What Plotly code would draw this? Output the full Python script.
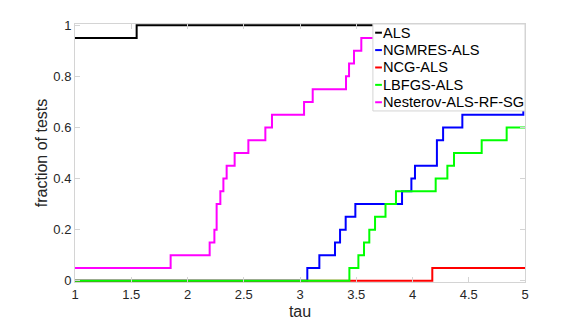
import plotly.graph_objects as go

# performance profile, step functions (tau where each fraction starts)
names = ['ALS', 'NGMRES-ALS', 'NCG-ALS', 'LBFGS-ALS', 'Nesterov-ALS-RF-SG']
colors = ['#000000', '#0000ff', '#ff0000', '#00ff00', '#ff00ff']

als_tau = [1, 1.548, 5]
als_frac = [0.95, 1.0, 1.0]

ngmres_tau = [1, 3.065, 3.172, 3.311, 3.356, 3.406, 3.492, 3.907, 3.99, 4.022,
              4.217, 4.272, 4.443, 4.985, 5]
ngmres_frac = [0, 0.05, 0.1, 0.15, 0.2, 0.25, 0.3, 0.35, 0.4, 0.45,
               0.55, 0.6, 0.65, 0.7, 0.7]

ncg_tau = [1, 4.176, 5]
ncg_frac = [0, 0.05, 0.05]

lbfgs_tau = [1, 3.439, 3.519, 3.569, 3.616, 3.667, 3.76, 3.853, 4.206, 4.31,
             4.369, 4.615, 4.837, 5]
lbfgs_frac = [0, 0.05, 0.1, 0.15, 0.2, 0.25, 0.3, 0.35, 0.4, 0.45,
              0.5, 0.55, 0.6, 0.6]

nest_tau = [1, 1.85, 2.197, 2.239, 2.259, 2.292, 2.319, 2.348, 2.419, 2.541,
            2.692, 2.751, 3.036, 3.113, 3.409, 3.436, 3.48, 3.545, 3.853, 5]
nest_frac = [0.05, 0.1, 0.15, 0.2, 0.3, 0.35, 0.4, 0.45, 0.5, 0.55,
             0.6, 0.65, 0.7, 0.75, 0.8, 0.85, 0.9, 0.95, 1.0, 1.0]

series = [(als_tau, als_frac), (ngmres_tau, ngmres_frac), (ncg_tau, ncg_frac),
          (lbfgs_tau, lbfgs_frac), (nest_tau, nest_frac)]

fig = go.Figure()
for name, color, (tau, frac) in zip(names, colors, series):
    fig.add_trace(go.Scatter(x=tau, y=frac, name=name, mode='lines',
                             line=dict(color=color, width=2, shape='hv'),
                             showlegend=False))

axis_style = dict(showline=True, linecolor='#d4d4d4', linewidth=1, mirror='ticks',
                  ticks='inside', ticklen=5, tickcolor='#d4d4d4', showgrid=False,
                  zeroline=False, automargin=False,
                  tickfont=dict(size=13, color='#262626'))

# page body has an 8px margin, so the figure is 8px smaller each way
fig.update_layout(
    width=573, height=314,
    margin=dict(l=67, r=56, t=16, b=40),
    paper_bgcolor='white', plot_bgcolor='white',
    font=dict(family='Liberation Sans, Arial, sans-serif', color='#262626'),
    xaxis=dict(range=[1, 5], tickvals=[1, 1.5, 2, 2.5, 3, 3.5, 4, 4.5, 5],
               ticktext=['1', '1.5', '2', '2.5', '3', '3.5', '4', '4.5', '5'],
               title=dict(text='tau', font=dict(size=16), standoff=5), **axis_style),
    yaxis=dict(range=[-0.005, 1.005], tickvals=[0, 0.2, 0.4, 0.6, 0.8, 1],
               ticktext=['0', '0.2', '0.4', '0.6', '0.8', '1'],
               title=dict(text='fraction of tests', font=dict(size=16), standoff=1),
               **axis_style),
)

# legend box drawn by hand, MATLAB style (short line samples)
lx0, lx1, ly0, ly1 = 0.662, 1.0, 0.663, 1.0
fig.add_shape(type='rect', xref='paper', yref='paper', x0=lx0, x1=lx1, y0=ly0, y1=ly1,
              line=dict(color='#d4d4d4', width=1), fillcolor='white', layer='above')
row_h = (ly1 - ly0) / len(names)
for i, (name, color) in enumerate(zip(names, colors)):
    yc = ly1 - row_h * (i + 0.5)
    fig.add_shape(type='line', xref='paper', yref='paper', x0=lx0 + 0.005, x1=lx0 + 0.02,
                  y0=yc, y1=yc, line=dict(color=color, width=2), layer='above')
    fig.add_annotation(x=lx0 + 0.018, y=yc, xref='paper', yref='paper', text=name,
                       showarrow=False, xanchor='left', yanchor='middle',
                       font=dict(size=14.6, color='#000000'))

fig.write_html('out.html')
